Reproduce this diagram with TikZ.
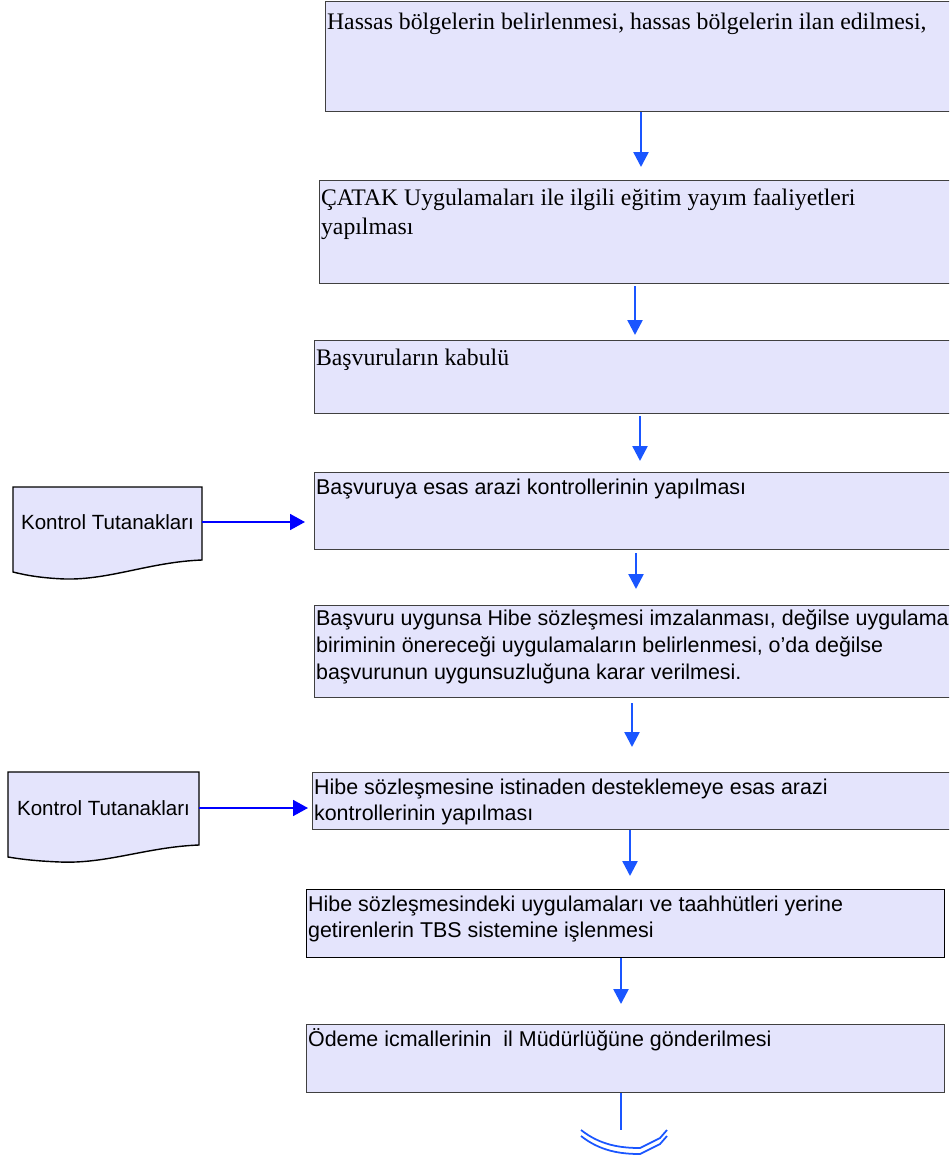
\documentclass[tikz,border=0pt]{standalone}
\usepackage{fontspec}
\setmainfont{Liberation Serif}
\setsansfont{Liberation Sans}
\usetikzlibrary{arrows.meta, positioning, calc}

\definecolor{boxfill}{RGB}{228,228,252}
\definecolor{boxline}{RGB}{64,64,64}
\definecolor{flowblue}{RGB}{26,86,255}

\begin{document}
\begin{tikzpicture}[x=0.02cm, y=-0.02cm,
  box/.style={draw=boxline, fill=boxfill, line width=0.8pt, anchor=north west, inner sep=0pt},
  serif/.style={anchor=north west, align=left, inner sep=1pt, yshift=-4pt, font=\fontsize{13.5}{16.4}\selectfont},
  sans/.style={anchor=north west, align=left, inner sep=1pt, yshift=-3pt, font=\sffamily\fontsize{12.2}{14.6}\selectfont},
  doc/.style={draw=black, fill=boxfill, line width=0.8pt},
  flow/.style={-{Triangle[width=8.5pt,length=8.5pt]}, flowblue, line width=1.4pt},
  docline/.style={-{Triangle[width=9pt,length=8.5pt]}, blue, line width=1.2pt}]
\useasboundingbox (0,0) rectangle (949,1155);
\clip (0,0) rectangle (949,1155);
% Steps
\node[box, minimum width=12.52cm, minimum height=2.2cm] (b1) at (325,1) {};
\node[box, minimum width=12.64cm, minimum height=2.06cm] (b2) at (319,180) {};
\node[box, minimum width=12.74cm, minimum height=1.46cm] (b3) at (314,340) {};
\node[box, minimum width=12.74cm, minimum height=1.54cm] (b4) at (314,472) {};
\node[box, minimum width=12.74cm, minimum height=1.84cm] (b5) at (314,605) {};
\node[box, minimum width=12.78cm, minimum height=1.14cm] (b6) at (312,772) {};
\node[box, minimum width=12.76cm, minimum height=1.36cm, draw=black] (b7) at (306,889) {};
\node[box, minimum width=12.76cm, minimum height=1.36cm] (b8) at (306,1024) {};
% Step texts
\node[serif, yshift=-1.5pt] (t1) at (b1.north west) {Hassas bölgelerin belirlenmesi, hassas bölgelerin ilan edilmesi,};
\node[serif] (t2) at (b2.north west) {ÇATAK Uygulamaları ile ilgili eğitim yayım faaliyetleri\\yapılması};
\node[serif] (t3) at (b3.north west) {Başvuruların kabulü};
\node[sans] (t4) at (b4.north west) {Başvuruya esas arazi kontrollerinin yapılması};
\node[sans, yshift=1.5pt, font=\sffamily\fontsize{12.2}{15.3}\selectfont] (t5) at (b5.north west) {Başvuru uygunsa Hibe sözleşmesi imzalanması, değilse uygulama\\biriminin önereceği uygulamaların belirlenmesi, o’da değilse\\başvurunun uygunsuzluğuna karar verilmesi.};
\node[sans] (t6) at (b6.north west) {Hibe sözleşmesine istinaden desteklemeye esas arazi\\kontrollerinin yapılması};
\node[sans] (t7) at (b7.north west) {Hibe sözleşmesindeki uygulamaları ve taahhütleri yerine\\getirenlerin TBS sistemine işlenmesi};
\node[sans, yshift=1.5pt] (t8) at (b8.north west) {Ödeme icmallerinin\ \ il Müdürlüğüne gönderilmesi};
% Documents
\draw[doc] (13,487) -- (202,487) -- (202,560) .. controls (150,562) and (110,580) .. (65,579) .. controls (40,578) and (25,575) .. (13,572) -- cycle;
\draw[doc] (8,772) -- (199,772) -- (199,845) .. controls (147,847) and (107,864) .. (60,862) .. controls (35,861) and (20,859) .. (8,857) -- cycle;
\node[font=\sffamily\fontsize{11.7}{13}\selectfont, minimum width=3.78cm, minimum height=1.4cm] (d1) at (107.5,522) {Kontrol Tutanakları};
\node[font=\sffamily\fontsize{11.7}{13}\selectfont, minimum width=3.82cm, minimum height=1.4cm] (d2) at (103.5,808) {Kontrol Tutanakları};
\draw[docline, shorten >=0.18cm] (d1.east) -- (d1.east -| b4.west);
\draw[docline, shorten >=0.08cm] (d2.east) -- (d2.east -| b6.west);
% Flow
\coordinate (x1) at (641,0);
\coordinate (x2) at (635,0);
\coordinate (x3) at (640,0);
\coordinate (x4) at (636,0);
\coordinate (x5) at (632,0);
\coordinate (x6) at (630,0);
\coordinate (x7) at (621,0);
\draw[flow, shorten >=0.26cm] (b1.south -| x1) -- (b2.north -| x1);
\draw[flow, shorten <=0.04cm, shorten >=0.1cm] (b2.south -| x2) -- (b3.north -| x2);
\draw[flow, shorten <=0.04cm, shorten >=0.22cm] (b3.south -| x3) -- (b4.north -| x3);
\draw[flow, shorten <=0.06cm, shorten >=0.32cm] (b4.south -| x4) -- (b5.north -| x4);
\draw[flow, shorten <=0.1cm, shorten >=0.5cm] (b5.south -| x5) -- (b6.north -| x5);
\draw[flow, shorten >=0.26cm] (b6.south -| x6) -- (b7.north -| x6);
\draw[flow, shorten >=0.4cm] (b7.south -| x7) -- (b8.north -| x7);
% Off-page connector
\coordinate (endc) at (621,1130);
\draw[flowblue, line width=1.2pt] (b8.south -| endc) -- (endc);
\draw[flowblue, line width=1pt] (581,1130) .. controls (600,1145) and (620,1148) .. (640,1148) -- (660,1138) -- (667,1130);
\draw[flowblue, line width=1pt] (581,1136) .. controls (600,1151) and (620,1154) .. (640,1154) -- (660,1144) -- (667,1136);
\end{tikzpicture}
\end{document}
